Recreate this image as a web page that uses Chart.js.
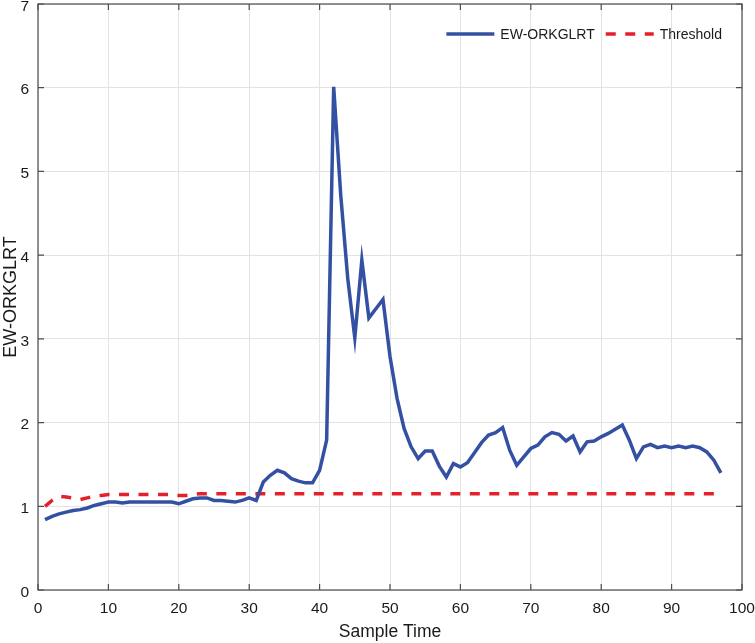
<!DOCTYPE html>
<html>
<head>
<meta charset="utf-8">
<script src="https://cdn.jsdelivr.net/npm/chart.js@4.4.1/dist/chart.umd.min.js"></script>
<style>
  html, body { margin: 0; padding: 0; background: #fff; }
  #chart { display: block; }
</style>
</head>
<body>
<canvas id="chart" width="755" height="643"></canvas>
<script>
var sampleTime = [
    1, 2, 3, 4, 5, 6, 7, 8, 9, 10, 11, 12, 13, 14, 15, 16, 17, 18, 19, 20,
    21, 22, 23, 24, 25, 26, 27, 28, 29, 30, 31, 32, 33, 34, 35, 36, 37, 38, 39, 40,
    41, 42, 43, 44, 45, 46, 47, 48, 49, 50, 51, 52, 53, 54, 55, 56, 57, 58, 59, 60,
    61, 62, 63, 64, 65, 66, 67, 68, 69, 70, 71, 72, 73, 74, 75, 76, 77, 78, 79, 80,
    81, 82, 83, 84, 85, 86, 87, 88, 89, 90, 91, 92, 93, 94, 95, 96, 97
];

var ewOrkglrt = [
    0.84, 0.88, 0.91, 0.93, 0.95, 0.96, 0.98, 1.01, 1.03, 1.05,
    1.05, 1.04, 1.05, 1.05, 1.05, 1.05, 1.05, 1.05, 1.05, 1.03,
    1.06, 1.09, 1.10, 1.10, 1.07, 1.07, 1.06, 1.05, 1.07, 1.10,
    1.07, 1.29, 1.37, 1.43, 1.40, 1.33, 1.30, 1.28, 1.28, 1.43,
    1.79, 6.01, 4.72, 3.72, 3.01, 3.94, 3.25, 3.36, 3.47, 2.79,
    2.29, 1.93, 1.71, 1.57, 1.66, 1.66, 1.48, 1.35, 1.51, 1.47,
    1.52, 1.64, 1.76, 1.85, 1.88, 1.94, 1.67, 1.49, 1.59, 1.69,
    1.73, 1.83, 1.88, 1.86, 1.78, 1.84, 1.65, 1.77, 1.78, 1.83,
    1.87, 1.92, 1.97, 1.79, 1.57, 1.71, 1.74, 1.70, 1.72, 1.70,
    1.72, 1.70, 1.72, 1.70, 1.65, 1.55, 1.40
];

var threshold = [
    1.00, 1.07, 1.12, 1.11, 1.10, 1.08, 1.10, 1.12, 1.13, 1.14,
    1.14, 1.14, 1.14, 1.14, 1.14, 1.14, 1.14, 1.14, 1.14, 1.13,
    1.13, 1.14, 1.15, 1.15, 1.15, 1.15, 1.15, 1.15, 1.15, 1.15,
    1.15, 1.15, 1.15, 1.15, 1.15, 1.15, 1.15, 1.15, 1.15, 1.15,
    1.15, 1.15, 1.15, 1.15, 1.15, 1.15, 1.15, 1.15, 1.15, 1.15,
    1.15, 1.15, 1.15, 1.15, 1.15, 1.15, 1.15, 1.15, 1.15, 1.15,
    1.15, 1.15, 1.15, 1.15, 1.15, 1.15, 1.15, 1.15, 1.15, 1.15,
    1.15, 1.15, 1.15, 1.15, 1.15, 1.15, 1.15, 1.15, 1.15, 1.15,
    1.15, 1.15, 1.15, 1.15, 1.15, 1.15, 1.15, 1.15, 1.15, 1.15,
    1.15, 1.15, 1.15, 1.15, 1.15, 1.15, 1.15
];

var seriesNames = [ 'EW-ORKGLRT', 'Threshold' ];
var xTitle = 'Sample Time';
var yTitle = 'EW-ORKGLRT';

var FONT = "'Liberation Sans', Arial, Helvetica, sans-serif";
var AXIS_COLOR = '#4d4d4d';
var TEXT_COLOR = '#1a1a1a';

var toPoints = function ( values ) {
    return values.map( function ( v, i ) {
        return { x: sampleTime[ i ], y: v };
    } );
};

// MATLAB style box with inward ticks on all four sides
var boxPlugin = {
    id: 'matlabBox',
    afterDraw: function ( chart ) {
        var ctx = chart.ctx;
        var a = chart.chartArea;
        var xs = chart.scales.x;
        var ys = chart.scales.y;
        var tick = 6;
        ctx.save();
        ctx.strokeStyle = AXIS_COLOR;
        ctx.lineWidth = 1.2;
        ctx.setLineDash( [] );
        ctx.beginPath();
        xs.ticks.forEach( function ( t ) {
            var px = xs.getPixelForValue( t.value );
            ctx.moveTo( px, a.bottom );
            ctx.lineTo( px, a.bottom - tick );
            ctx.moveTo( px, a.top );
            ctx.lineTo( px, a.top + tick );
        } );
        ys.ticks.forEach( function ( t ) {
            var py = ys.getPixelForValue( t.value );
            ctx.moveTo( a.left, py );
            ctx.lineTo( a.left + tick, py );
            ctx.moveTo( a.right, py );
            ctx.lineTo( a.right - tick, py );
        } );
        ctx.stroke();
        ctx.strokeRect( a.left, a.top, a.right - a.left, a.bottom - a.top );
        ctx.restore();
    }
};

// legend inside the plot, top right, one row, no frame
var legendPlugin = {
    id: 'insideLegend',
    afterDatasetsDraw: function ( chart ) {
        var ctx = chart.ctx;
        var a = chart.chartArea;
        var sample = 48;
        var textGap = 6;
        var itemGap = 11;
        var y = a.top + 30;
        ctx.save();
        ctx.font = '14px ' + FONT;
        var widths = chart.data.datasets.map( function ( ds ) {
            return ctx.measureText( ds.label ).width;
        } );
        var total = 0;
        widths.forEach( function ( w, i ) {
            total += sample + textGap + w + ( i > 0 ? itemGap : 0 );
        } );
        var x = a.right - 20 - total;
        chart.data.datasets.forEach( function ( ds, i ) {
            ctx.strokeStyle = ds.borderColor;
            ctx.lineWidth = ds.borderWidth;
            ctx.setLineDash( ds.borderDash || [] );
            ctx.beginPath();
            ctx.moveTo( x, y );
            ctx.lineTo( x + sample, y );
            ctx.stroke();
            ctx.setLineDash( [] );
            ctx.fillStyle = TEXT_COLOR;
            ctx.textAlign = 'left';
            ctx.textBaseline = 'middle';
            ctx.fillText( ds.label, x + sample + textGap, y + 1 );
            x += sample + textGap + widths[ i ] + itemGap;
        } );
        ctx.restore();
    }
};

new Chart( document.getElementById( 'chart' ), {
    type: 'line',
    data: {
        datasets: [
            {
                label: seriesNames[ 0 ],
                data: toPoints( ewOrkglrt ),
                borderColor: '#3450a2',
                backgroundColor: '#3450a2',
                borderWidth: 3.5,
                pointRadius: 0,
                tension: 0
            },
            {
                label: seriesNames[ 1 ],
                data: toPoints( threshold ),
                borderColor: '#e4202a',
                backgroundColor: '#e4202a',
                borderWidth: 3.5,
                borderDash: [ 10, 9.5 ],
                pointRadius: 0,
                tension: 0
            }
        ]
    },
    options: {
        responsive: false,
        animation: false,
        layout: { padding: { top: 4, right: 13, left: 0, bottom: 0 } },
        plugins: {
            tooltip: { enabled: false },
            legend: { display: false }
        },
        scales: {
            x: {
                type: 'linear',
                min: 0,
                max: 100,
                border: { display: false },
                grid: { color: '#e3e3e3', lineWidth: 1, tickLength: 0 },
                ticks: {
                    stepSize: 10,
                    padding: 9,
                    maxRotation: 0,
                    color: TEXT_COLOR,
                    font: { family: FONT, size: 15.5 }
                },
                title: {
                    display: true,
                    text: xTitle,
                    color: TEXT_COLOR,
                    padding: 0,
                    font: { family: FONT, size: 17.5 }
                },
                afterFit: function ( scale ) {
                    scale.height = 53;
                    scale.paddingLeft = 0;
                    scale.paddingRight = 0;
                }
            },
            y: {
                min: 0,
                max: 7,
                border: { display: false },
                grid: { color: '#e3e3e3', lineWidth: 1, tickLength: 0 },
                ticks: {
                    stepSize: 1,
                    padding: 9,
                    labelOffset: 2.5,
                    color: TEXT_COLOR,
                    font: { family: FONT, size: 15.5 }
                },
                title: {
                    display: true,
                    text: yTitle,
                    color: TEXT_COLOR,
                    padding: 0,
                    font: { family: FONT, size: 18 }
                },
                afterFit: function ( scale ) {
                    scale.width = 38;
                    scale.paddingTop = 0;
                    scale.paddingBottom = 0;
                }
            }
        }
    },
    plugins: [ boxPlugin, legendPlugin ]
} );
</script>
</body>
</html>
